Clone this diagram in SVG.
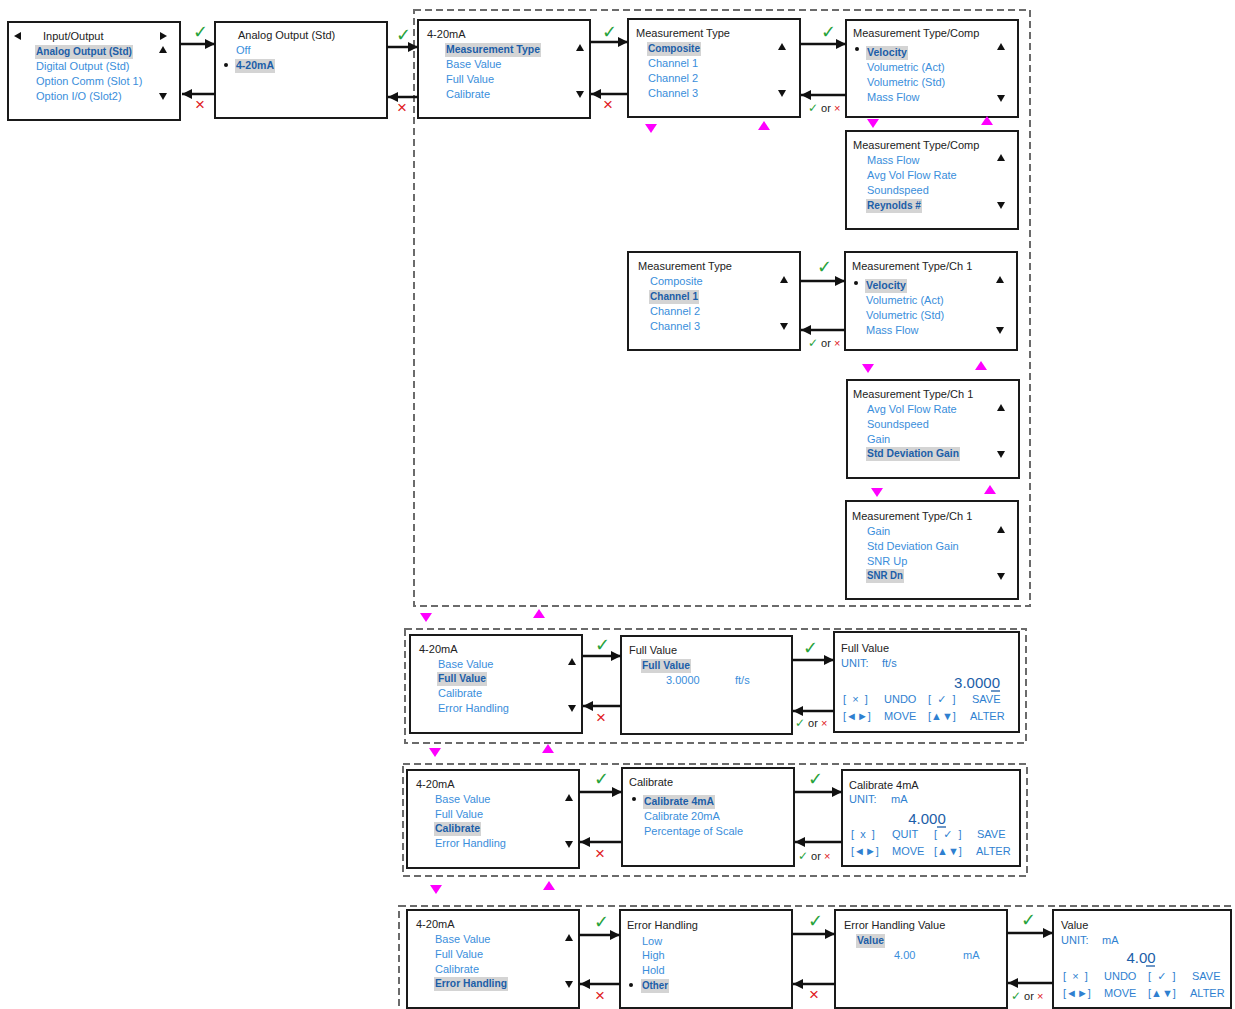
<svg xmlns="http://www.w3.org/2000/svg" width="1235" height="1009" viewBox="0 0 1235 1009">
<style>
.box{fill:#fff;stroke:#1a1a1a;stroke-width:2}
.dash{fill:none;stroke:#6b6b6b;stroke-width:2;stroke-dasharray:7 4}
text{font-family:"Liberation Sans","DejaVu Sans",sans-serif;font-size:11px}
.t{fill:#222}
.i{fill:#3a8edb}
.s{fill:#1c5ea8;font-weight:bold}
.e{fill:#2f7fd0;font-size:11px}
.hl{fill:#d4d4d4}
.ok{fill:#27a23a;font-size:18px}
.x{fill:#e0201c;font-size:17px}
.sok{fill:#27a23a;font-size:12px}
.sx{fill:#e0201c;font-size:11px}
.or{fill:#222;font-size:11px}
.big{fill:#1c5ea8;font-size:15px}
.ar{stroke:#111;stroke-width:2.5;fill:none}
.mg{fill:#ff00ff}
.sym{fill:#111}
.ul{stroke:#1c5ea8;stroke-width:1.3}
</style>
<defs>
<marker id="ah" markerUnits="userSpaceOnUse" markerWidth="11" markerHeight="11" refX="10" refY="5" orient="auto"><path d="M0,0 L10,5 L0,10 z" fill="#111"/></marker>
<polygon id="up" class="sym" points="-4,3 4,3 0,-4"/>
<polygon id="dn" class="sym" points="-4,-3 4,-3 0,4"/>
<polygon id="mdn" class="mg" points="-6,-4 6,-4 0,5"/>
<polygon id="mup" class="mg" points="-6,4 6,4 0,-5"/>
</defs>

<g id="dashed-frames">
<rect class="dash" x="414" y="10" width="616" height="596"/>
<rect class="dash" x="405" y="629" width="621" height="114"/>
<rect class="dash" x="403" y="764" width="624" height="112"/>
<rect class="dash" x="399" y="906" width="832" height="120"/>
</g>

<g id="io">
<rect class="box" x="8" y="22" width="172" height="98"/>
<polygon class="sym" points="14,36 21,32 21,40"/>
<polygon class="sym" points="167,36 160,32 160,40"/>
<text class="t" x="43" y="40">Input/Output</text>
<rect class="hl" x="35" y="45" width="98" height="14"/>
<text class="s" x="36" y="55" textLength="96" lengthAdjust="spacingAndGlyphs">Analog Output (Std)</text>
<text class="i" x="36" y="70">Digital Output (Std)</text>
<text class="i" x="36" y="85">Option Comm (Slot 1)</text>
<text class="i" x="36" y="100">Option I/O (Slot2)</text>
<use href="#up" x="163" y="50"/><use href="#dn" x="163" y="96"/>
</g>

<g id="analog-output">
<rect class="box" x="215" y="22" width="172" height="96"/>
<text class="t" x="238" y="39">Analog Output (Std)</text>
<text class="i" x="236" y="54">Off</text>
<circle cx="226" cy="65" r="2" fill="#111"/>
<rect class="hl" x="235" y="59" width="40" height="14"/>
<text class="s" x="236" y="69" textLength="38" lengthAdjust="spacingAndGlyphs">4-20mA</text>
</g>

<g id="ma-menu-1">
<rect class="box" x="418" y="20" width="172" height="98"/>
<text class="t" x="427" y="38">4-20mA</text>
<rect class="hl" x="445" y="43" width="96" height="14"/>
<text class="s" x="446" y="53" textLength="94" lengthAdjust="spacingAndGlyphs">Measurement Type</text>
<text class="i" x="446" y="68">Base Value</text>
<text class="i" x="446" y="83">Full Value</text>
<text class="i" x="446" y="98">Calibrate</text>
<use href="#up" x="580" y="48"/><use href="#dn" x="580" y="94"/>
</g>

<g id="mt-composite">
<rect class="box" x="628" y="19" width="172" height="98"/>
<text class="t" x="636" y="37">Measurement Type</text>
<rect class="hl" x="647" y="42" width="54" height="14"/>
<text class="s" x="648" y="52" textLength="52" lengthAdjust="spacingAndGlyphs">Composite</text>
<text class="i" x="648" y="67">Channel 1</text>
<text class="i" x="648" y="82">Channel 2</text>
<text class="i" x="648" y="97">Channel 3</text>
<use href="#up" x="782" y="47"/><use href="#dn" x="782" y="93"/>
</g>

<g id="mt-comp-1">
<rect class="box" x="846" y="20" width="172" height="97"/>
<text class="t" x="853" y="37">Measurement Type/Comp</text>
<circle cx="857" cy="49" r="2" fill="#111"/>
<rect class="hl" x="866" y="46" width="42" height="14"/>
<text class="s" x="867" y="56" textLength="40" lengthAdjust="spacingAndGlyphs">Velocity</text>
<text class="i" x="867" y="71">Volumetric (Act)</text>
<text class="i" x="867" y="86">Volumetric (Std)</text>
<text class="i" x="867" y="101">Mass Flow</text>
<use href="#up" x="1001" y="47"/><use href="#dn" x="1001" y="98"/>
</g>

<g id="mt-comp-2">
<rect class="box" x="846" y="131" width="172" height="98"/>
<text class="t" x="853" y="149">Measurement Type/Comp</text>
<text class="i" x="867" y="164">Mass Flow</text>
<text class="i" x="867" y="179">Avg Vol Flow Rate</text>
<text class="i" x="867" y="194">Soundspeed</text>
<rect class="hl" x="866" y="199" width="56" height="14"/>
<text class="s" x="867" y="209" textLength="54" lengthAdjust="spacingAndGlyphs">Reynolds #</text>
<use href="#up" x="1001" y="158"/><use href="#dn" x="1001" y="205"/>
</g>

<g id="mt-channel1">
<rect class="box" x="628" y="252" width="172" height="98"/>
<text class="t" x="638" y="270">Measurement Type</text>
<text class="i" x="650" y="285">Composite</text>
<rect class="hl" x="649" y="290" width="50" height="14"/>
<text class="s" x="650" y="300" textLength="48" lengthAdjust="spacingAndGlyphs">Channel 1</text>
<text class="i" x="650" y="315">Channel 2</text>
<text class="i" x="650" y="330">Channel 3</text>
<use href="#up" x="784" y="280"/><use href="#dn" x="784" y="326"/>
</g>

<g id="mt-ch1-1">
<rect class="box" x="845" y="252" width="172" height="98"/>
<text class="t" x="852" y="270">Measurement Type/Ch 1</text>
<circle cx="856" cy="283" r="2" fill="#111"/>
<rect class="hl" x="865" y="279" width="42" height="14"/>
<text class="s" x="866" y="289" textLength="40" lengthAdjust="spacingAndGlyphs">Velocity</text>
<text class="i" x="866" y="304">Volumetric (Act)</text>
<text class="i" x="866" y="319">Volumetric (Std)</text>
<text class="i" x="866" y="334">Mass Flow</text>
<use href="#up" x="1000" y="280"/><use href="#dn" x="1000" y="330"/>
</g>

<g id="mt-ch1-2">
<rect class="box" x="847" y="380" width="172" height="98"/>
<text class="t" x="853" y="398">Measurement Type/Ch 1</text>
<text class="i" x="867" y="413">Avg Vol Flow Rate</text>
<text class="i" x="867" y="428">Soundspeed</text>
<text class="i" x="867" y="443">Gain</text>
<rect class="hl" x="866" y="447" width="94" height="14"/>
<text class="s" x="867" y="457" textLength="92" lengthAdjust="spacingAndGlyphs">Std Deviation Gain</text>
<use href="#up" x="1001" y="408"/><use href="#dn" x="1001" y="454"/>
</g>

<g id="mt-ch1-3">
<rect class="box" x="846" y="501" width="172" height="98"/>
<text class="t" x="852" y="520">Measurement Type/Ch 1</text>
<text class="i" x="867" y="535">Gain</text>
<text class="i" x="867" y="550">Std Deviation Gain</text>
<text class="i" x="867" y="565">SNR Up</text>
<rect class="hl" x="866" y="569" width="38" height="14"/>
<text class="s" x="867" y="579" textLength="36" lengthAdjust="spacingAndGlyphs">SNR Dn</text>
<use href="#up" x="1001" y="530"/><use href="#dn" x="1001" y="576"/>
</g>

<g id="ma-menu-2">
<rect class="box" x="410" y="635" width="172" height="98"/>
<text class="t" x="419" y="653">4-20mA</text>
<text class="i" x="438" y="668">Base Value</text>
<rect class="hl" x="437" y="672" width="50" height="14"/>
<text class="s" x="438" y="682" textLength="48" lengthAdjust="spacingAndGlyphs">Full Value</text>
<text class="i" x="438" y="697">Calibrate</text>
<text class="i" x="438" y="712">Error Handling</text>
<use href="#up" x="572" y="662"/><use href="#dn" x="572" y="708"/>
</g>

<g id="full-value">
<rect class="box" x="621" y="636" width="171" height="98"/>
<text class="t" x="629" y="654">Full Value</text>
<rect class="hl" x="641" y="659" width="50" height="14"/>
<text class="s" x="642" y="669" textLength="48" lengthAdjust="spacingAndGlyphs">Full Value</text>
<text class="i" x="666" y="684">3.0000</text>
<text class="i" x="735" y="684">ft/s</text>
</g>

<g id="full-value-edit">
<rect class="box" x="834" y="632" width="185" height="100"/>
<text class="t" x="841" y="652">Full Value</text>
<text class="e" x="841" y="667">UNIT:</text>
<text class="e" x="882" y="667">ft/s</text>
<text class="big" x="1000" y="688" text-anchor="end">3.0000</text>
<line class="ul" x1="991" y1="691" x2="1000" y2="691"/>
<text class="e" x="843" y="703" xml:space="preserve">[  ×  ]</text>
<text class="e" x="884" y="703">UNDO</text>
<text class="e" x="928" y="703" xml:space="preserve">[  ✓  ]</text>
<text class="e" x="972" y="703">SAVE</text>
<text class="e" x="843" y="720">[◄►]</text>
<text class="e" x="884" y="720">MOVE</text>
<text class="e" x="928" y="720">[▲▼]</text>
<text class="e" x="970" y="720">ALTER</text>
</g>

<g id="ma-menu-3">
<rect class="box" x="407" y="770" width="172" height="98"/>
<text class="t" x="416" y="788">4-20mA</text>
<text class="i" x="435" y="803">Base Value</text>
<text class="i" x="435" y="818">Full Value</text>
<rect class="hl" x="434" y="822" width="47" height="14"/>
<text class="s" x="435" y="832" textLength="45" lengthAdjust="spacingAndGlyphs">Calibrate</text>
<text class="i" x="435" y="847">Error Handling</text>
<use href="#up" x="569" y="798"/><use href="#dn" x="569" y="844"/>
</g>

<g id="calibrate">
<rect class="box" x="622" y="768" width="172" height="98"/>
<text class="t" x="629" y="786">Calibrate</text>
<circle cx="634" cy="799" r="2" fill="#111"/>
<rect class="hl" x="643" y="795" width="72" height="14"/>
<text class="s" x="644" y="805" textLength="70" lengthAdjust="spacingAndGlyphs">Calibrate 4mA</text>
<text class="i" x="644" y="820">Calibrate 20mA</text>
<text class="i" x="644" y="835">Percentage of Scale</text>
</g>

<g id="calibrate-4ma">
<rect class="box" x="842" y="770" width="178" height="96"/>
<text class="t" x="849" y="789">Calibrate 4mA</text>
<text class="e" x="849" y="803">UNIT:</text>
<text class="e" x="891" y="803">mA</text>
<text class="big" x="927" y="824" text-anchor="middle">4.000</text>
<line class="ul" x1="937" y1="827" x2="946" y2="827"/>
<text class="e" x="851" y="838" xml:space="preserve">[  x  ]</text>
<text class="e" x="892" y="838">QUIT</text>
<text class="e" x="934" y="838" xml:space="preserve">[  ✓  ]</text>
<text class="e" x="977" y="838">SAVE</text>
<text class="e" x="851" y="855">[◄►]</text>
<text class="e" x="892" y="855">MOVE</text>
<text class="e" x="934" y="855">[▲▼]</text>
<text class="e" x="976" y="855">ALTER</text>
</g>

<g id="ma-menu-4">
<rect class="box" x="407" y="910" width="172" height="98"/>
<text class="t" x="416" y="928">4-20mA</text>
<text class="i" x="435" y="943">Base Value</text>
<text class="i" x="435" y="958">Full Value</text>
<text class="i" x="435" y="973">Calibrate</text>
<rect class="hl" x="434" y="977" width="74" height="14"/>
<text class="s" x="435" y="987" textLength="72" lengthAdjust="spacingAndGlyphs">Error Handling</text>
<use href="#up" x="569" y="938"/><use href="#dn" x="569" y="984"/>
</g>

<g id="error-handling">
<rect class="box" x="620" y="910" width="172" height="98"/>
<text class="t" x="627" y="929">Error Handling</text>
<text class="i" x="642" y="945">Low</text>
<text class="i" x="642" y="959">High</text>
<text class="i" x="642" y="974">Hold</text>
<circle cx="631" cy="985" r="2" fill="#111"/>
<rect class="hl" x="641" y="979" width="28" height="14"/>
<text class="s" x="642" y="989" textLength="26" lengthAdjust="spacingAndGlyphs">Other</text>
</g>

<g id="error-handling-value">
<rect class="box" x="835" y="910" width="172" height="98"/>
<text class="t" x="844" y="929">Error Handling Value</text>
<rect class="hl" x="856" y="934" width="29" height="14"/>
<text class="s" x="857" y="944" textLength="27" lengthAdjust="spacingAndGlyphs">Value</text>
<text class="i" x="894" y="959">4.00</text>
<text class="i" x="963" y="959">mA</text>
</g>

<g id="value-edit">
<rect class="box" x="1053" y="910" width="178" height="98"/>
<text class="t" x="1061" y="929">Value</text>
<text class="e" x="1061" y="944">UNIT:</text>
<text class="e" x="1102" y="944">mA</text>
<text class="big" x="1141" y="963" text-anchor="middle">4.00</text>
<line class="ul" x1="1146" y1="966" x2="1155" y2="966"/>
<text class="e" x="1063" y="980" xml:space="preserve">[  ×  ]</text>
<text class="e" x="1104" y="980">UNDO</text>
<text class="e" x="1148" y="980" xml:space="preserve">[  ✓  ]</text>
<text class="e" x="1192" y="980">SAVE</text>
<text class="e" x="1063" y="997">[◄►]</text>
<text class="e" x="1104" y="997">MOVE</text>
<text class="e" x="1148" y="997">[▲▼]</text>
<text class="e" x="1190" y="997">ALTER</text>
</g>

<g id="connectors">
<line class="ar" x1="180" y1="44" x2="215" y2="44" marker-end="url(#ah)"/>
<line class="ar" x1="215" y1="94" x2="182" y2="94" marker-end="url(#ah)"/>
<line class="ar" x1="387" y1="47" x2="418" y2="47" marker-end="url(#ah)"/>
<line class="ar" x1="418" y1="97" x2="388" y2="97" marker-end="url(#ah)"/>
<line class="ar" x1="590" y1="42" x2="628" y2="42" marker-end="url(#ah)"/>
<line class="ar" x1="628" y1="94" x2="591" y2="94" marker-end="url(#ah)"/>
<line class="ar" x1="800" y1="44" x2="846" y2="44" marker-end="url(#ah)"/>
<line class="ar" x1="846" y1="95" x2="801" y2="95" marker-end="url(#ah)"/>
<line class="ar" x1="800" y1="281" x2="845" y2="281" marker-end="url(#ah)"/>
<line class="ar" x1="845" y1="330" x2="801" y2="330" marker-end="url(#ah)"/>
<line class="ar" x1="582" y1="656" x2="621" y2="656" marker-end="url(#ah)"/>
<line class="ar" x1="621" y1="706" x2="583" y2="706" marker-end="url(#ah)"/>
<line class="ar" x1="792" y1="660" x2="834" y2="660" marker-end="url(#ah)"/>
<line class="ar" x1="834" y1="711" x2="793" y2="711" marker-end="url(#ah)"/>
<line class="ar" x1="579" y1="792" x2="622" y2="792" marker-end="url(#ah)"/>
<line class="ar" x1="622" y1="842" x2="580" y2="842" marker-end="url(#ah)"/>
<line class="ar" x1="794" y1="792" x2="842" y2="792" marker-end="url(#ah)"/>
<line class="ar" x1="842" y1="842" x2="795" y2="842" marker-end="url(#ah)"/>
<line class="ar" x1="579" y1="935" x2="620" y2="935" marker-end="url(#ah)"/>
<line class="ar" x1="620" y1="984" x2="580" y2="984" marker-end="url(#ah)"/>
<line class="ar" x1="792" y1="934" x2="835" y2="934" marker-end="url(#ah)"/>
<line class="ar" x1="835" y1="984" x2="793" y2="984" marker-end="url(#ah)"/>
<line class="ar" x1="1007" y1="933" x2="1053" y2="933" marker-end="url(#ah)"/>
<line class="ar" x1="1053" y1="983" x2="1008" y2="983" marker-end="url(#ah)"/>

<text class="ok" x="193" y="38">✓</text><text class="x" x="195" y="110">×</text>
<text class="ok" x="396" y="41">✓</text><text class="x" x="397" y="113">×</text>
<text class="ok" x="602" y="38">✓</text><text class="x" x="603" y="110">×</text>
<text class="ok" x="821" y="38">✓</text>
<text x="808" y="112"><tspan class="sok">✓</tspan><tspan class="or"> or </tspan><tspan class="sx">×</tspan></text>
<text class="ok" x="817" y="273">✓</text>
<text x="808" y="347"><tspan class="sok">✓</tspan><tspan class="or"> or </tspan><tspan class="sx">×</tspan></text>
<text class="ok" x="595" y="651">✓</text><text class="x" x="596" y="723">×</text>
<text class="ok" x="803" y="654">✓</text>
<text x="795" y="727"><tspan class="sok">✓</tspan><tspan class="or"> or </tspan><tspan class="sx">×</tspan></text>
<text class="ok" x="594" y="785">✓</text><text class="x" x="595" y="859">×</text>
<text class="ok" x="808" y="785">✓</text>
<text x="798" y="860"><tspan class="sok">✓</tspan><tspan class="or"> or </tspan><tspan class="sx">×</tspan></text>
<text class="ok" x="594" y="928">✓</text><text class="x" x="595" y="1001">×</text>
<text class="ok" x="808" y="927">✓</text><text class="x" x="809" y="1000">×</text>
<text class="ok" x="1021" y="926">✓</text>
<text x="1011" y="1000"><tspan class="sok">✓</tspan><tspan class="or"> or </tspan><tspan class="sx">×</tspan></text>

<use href="#mdn" x="651" y="128"/><use href="#mup" x="764" y="126"/>
<use href="#mdn" x="873" y="123"/><use href="#mup" x="987" y="121"/>
<use href="#mdn" x="868" y="368"/><use href="#mup" x="981" y="366"/>
<use href="#mdn" x="877" y="492"/><use href="#mup" x="990" y="490"/>
<use href="#mdn" x="426" y="617"/><use href="#mup" x="539" y="614"/>
<use href="#mdn" x="435" y="752"/><use href="#mup" x="548" y="749"/>
<use href="#mdn" x="436" y="889"/><use href="#mup" x="549" y="886"/>
</g>
</svg>
